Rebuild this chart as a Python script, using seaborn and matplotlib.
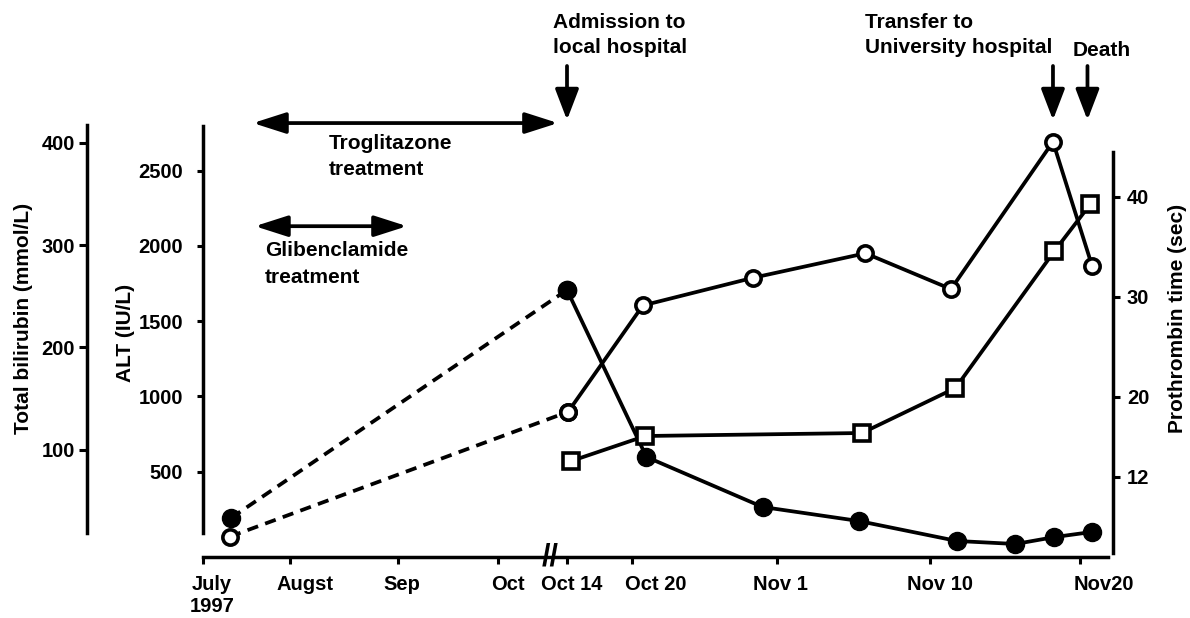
import numpy as np
import seaborn as sns
import matplotlib.pyplot as plt
from matplotlib.transforms import ScaledTranslation

# time is counted in days from 1 July 1997
tick_days = [0, 31, 62, 92, 105, 111, 123, 132, 142]
tick_labels = ["July\n1997", "Augst", "Sep", "Oct", "Oct 14", "Oct 20", "Nov 1", "Nov 10", "Nov20"]
# the time axis is drawn by hand and broken after Oct: where each tick day sits (0 = left end, 1 = right end)
tick_pos = [0.0, 0.0956, 0.2143, 0.3242, 0.4000, 0.4714, 0.6308, 0.7989, 0.9637]
end_day = 144.2
break_day = 101.8

# ALT (IU/L), filled circles
alt_days = [10, 105, 112.2, 121.8, 127.8, 133.8, 137.7, 140.3, 142.8]
alt_vals = [193, 1708, 598, 266, 173, 40, 20, 66, 100]

# total bilirubin (mmol/L), open circles
bili_days = [9.6, 105.1, 111.9, 121.0, 128.2, 133.4, 140.2, 142.8]
bili_vals = [15, 137, 241, 268, 292, 257, 401, 280]

# prothrombin time (sec), open squares
pt_days = [105.4, 112.1, 128.0, 133.7, 140.3, 142.7]
pt_vals = [13.6, 16.1, 16.4, 20.9, 34.6, 39.3]

alt_ticks = [500, 1000, 1500, 2000, 2500]
bili_ticks = [100, 200, 300, 400]
pt_ticks = [12, 20, 30, 40]

event_labels = ["Admission to\nlocal hospital", "Transfer to\nUniversity hospital", "Death"]
event_days = [105, 140.2, 142.5]
treat_labels = ["Troglitazone\ntreatment", "Glibenclamide\ntreatment"]
treat_start = [17.8, 18.5]
treat_end = [103.3, 64.7]

sns.set_style("ticks")
plt.rcParams["font.family"] = ["Liberation Sans", "DejaVu Sans"]
plt.rcParams["font.weight"] = "bold"
plt.rcParams["axes.labelweight"] = "bold"
for key in ["text.color", "axes.labelcolor", "xtick.color", "ytick.color", "axes.edgecolor"]:
    plt.rcParams[key] = "black"

axis_days = tick_days + [end_day]
axis_pos = tick_pos + [1.0]


def fwd(d):
    return np.interp(d, axis_days, axis_pos)


def inv(p):
    return np.interp(p, axis_pos, axis_days)


fig = plt.figure(figsize=(11.9, 6.18), dpi=100)
ax = fig.add_axes([203 / 1190, 61 / 618, 910 / 1190, 437 / 618])
ax.set_xscale("function", functions=(fwd, inv))
pax = ax.twinx()
bax = ax.twinx()

LW = 2.7
dash = (0, (3, 2))
filled = dict(marker="o", ms=13, mfc="black", mec="black", mew=1)
hollow = dict(marker="o", ms=11, mfc="white", mec="black", mew=2.6)
square = dict(marker="s", ms=12, mfc="white", mec="black", mew=2.6)

# ALT
sns.lineplot(x=alt_days[:2], y=alt_vals[:2], ax=ax, color="black", lw=LW, linestyle=dash, **filled)
sns.lineplot(x=alt_days[1:], y=alt_vals[1:], ax=ax, color="black", lw=LW, **filled)
# bilirubin
sns.lineplot(x=bili_days[:2], y=bili_vals[:2], ax=bax, color="black", lw=LW, linestyle=dash, **hollow)
sns.lineplot(x=bili_days[1:], y=bili_vals[1:], ax=bax, color="black", lw=LW, **hollow)
# prothrombin time
sns.lineplot(x=pt_days, y=pt_vals, ax=pax, color="black", lw=LW, **square)

ax.set_xlim(0, end_day)
ax.set_ylim(-66.4, 2837)
bax.set_ylim(-4.9, 422.3)
pax.set_ylim(4.0, 47.7)

for a in (ax, pax, bax):
    for s in a.spines.values():
        s.set_visible(False)
        s.set_linewidth(2.5)

ax.spines["bottom"].set_visible(True)
ax.spines["bottom"].set_bounds(0, 143.9)
ax.spines["left"].set_visible(True)
ax.spines["left"].set_bounds(93, 2797)
pax.spines["right"].set_visible(True)
pax.spines["right"].set_bounds(4.4, 44.5)
bax.spines["left"].set_visible(True)
bax.spines["left"].set_position(("axes", -116 / 910))
bax.spines["left"].set_bounds(18.6, 417.4)
bax.yaxis.tick_left()

ax.set_xticks(tick_days)
ax.set_xticklabels(tick_labels)
ax.set_yticks(alt_ticks)
pax.set_yticks(pt_ticks)
bax.set_yticks(bili_ticks)

ax.tick_params(axis="x", direction="out", length=5, width=2.2, pad=8, labelsize=14.5)
ax.tick_params(axis="y", direction="out", length=4.3, width=2.2, pad=10, labelsize=14.5)
bax.tick_params(axis="y", direction="out", length=5.8, width=2.2, pad=3, labelsize=14.5)
pax.tick_params(axis="y", direction="out", length=5, width=2.2, pad=5, labelsize=14.5)

# x labels in the original sit a little right of their ticks
label_shift = [9, 15, 4, 10, 5, 24, 3, 10, 24]
for lab, dx in zip(ax.get_xticklabels(), label_shift):
    lab.set_transform(lab.get_transform() + ScaledTranslation(dx / 100, 0, fig.dpi_scale_trans))

ax.set_xlabel("")
ax.set_ylabel("ALT (IU/L)", fontsize=15)
ax.yaxis.set_label_coords(-0.0747, 0.513)
bax.set_ylabel("Total bilirubin (mmol/L)", fontsize=15)
bax.yaxis.set_label_position("left")
bax.yaxis.set_label_coords(-0.187, 0.545)
pax.set_ylabel("Prothrombin time (sec)", fontsize=15)
pax.yaxis.set_label_coords(1.0604, 0.547)

xt = ax.get_xaxis_transform()

# axis break mark
ax.text(break_day, 0, "//", transform=xt, ha="center", va="center", fontsize=22,
        fontweight="bold", clip_on=False)

# events at the top
for d in event_days:
    ax.annotate("", xy=(d, 1.0), xytext=(d, 1.1236), xycoords=xt, annotation_clip=False,
                arrowprops=dict(arrowstyle="-|>,head_length=0.94,head_width=0.36", color="black",
                                lw=LW, shrinkA=0, shrinkB=0, mutation_scale=20))
ax.text(102.4, 1.1945, event_labels[0], transform=xt, ha="left", va="center", fontsize=15,
        linespacing=1.35, clip_on=False)
ax.text(128.2, 1.1945, event_labels[1], transform=xt, ha="left", va="center", fontsize=15,
        linespacing=1.35, clip_on=False)
ax.text(141.5, 1.160, event_labels[2], transform=xt, ha="left", va="center", fontsize=15,
        clip_on=False)

# treatment periods
treat_y = [0.993, 0.757]
treat_text = [(42.2, 0.9165), (22.1, 0.6705)]
for lab, s, e, y, (tx, ty) in zip(treat_labels, treat_start, treat_end, treat_y, treat_text):
    ax.annotate("", xy=(e, y), xytext=(s, y), xycoords=xt, annotation_clip=False,
                arrowprops=dict(arrowstyle="<|-|>,head_length=1.0,head_width=0.32", color="black",
                                lw=LW, shrinkA=0, shrinkB=0, mutation_scale=20))
    ax.text(tx, ty, lab, transform=xt, ha="left", va="center", fontsize=15,
            linespacing=1.5, clip_on=False)

fig.savefig("out.png", dpi=100, facecolor="white")
